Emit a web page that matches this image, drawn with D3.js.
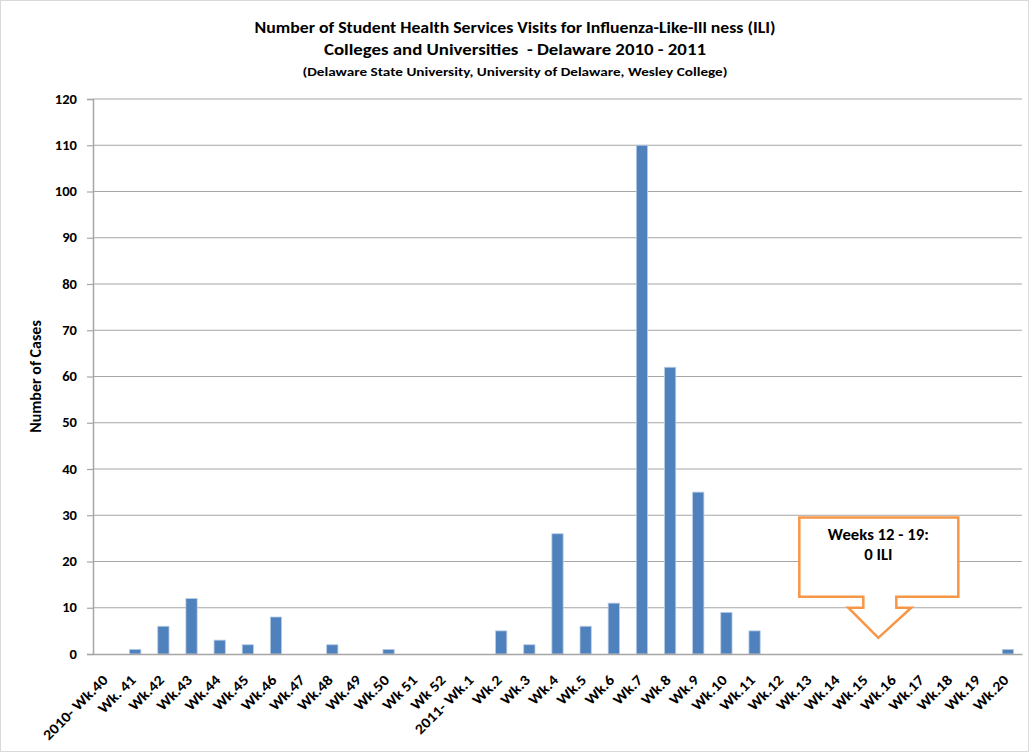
<!DOCTYPE html>
<html><head><meta charset="utf-8">
<script src="https://cdn.jsdelivr.net/npm/d3@7"></script>
<style>
html,body{margin:0;padding:0;background:#fff;}
svg{display:block;font-family:Carlito,Calibri,Lato,"Open Sans",sans-serif;font-weight:bold;}
</style></head>
<body><svg id="c" width="1029" height="752"></svg>
<script>
const categories = ["2010- Wk.40","Wk. 41","Wk.42","Wk.43","Wk.44","Wk.45","Wk.46","Wk.47","Wk.48","Wk.49","Wk.50","Wk 51","Wk 52","2011- Wk.1","Wk.2","Wk.3","Wk.4","Wk.5","Wk.6","Wk.7","Wk.8","Wk.9","Wk.10","Wk.11","Wk.12","Wk.13","Wk.14","Wk.15","Wk.16","Wk.17","Wk.18","Wk.19","Wk.20"];
const visits = [0,1,6,12,3,2,8,0,2,0,1,0,0,0,5,2,26,6,11,110,62,35,9,5,0,0,0,0,0,0,0,0,1];
const yTicks = [0,10,20,30,40,50,60,70,80,90,100,110,120];
const titleLines = ["Number of Student Health Services Visits for Influenza-Like-Ill ness (ILI)","Colleges and Universities  - Delaware 2010 - 2011","(Delaware State University, University of Delaware, Wesley College)"];
const yTitle = "Number of Cases";
const calloutLines = ["Weeks 12 - 19:","0 ILI"];

const svg = d3.select("#c");
const W=1029,H=752;
const m={left:93,right:1022,top:99,bottom:654};
const FF="Carlito,Calibri,Lato,sans-serif";

svg.append("rect").attr("x",0.5).attr("y",0.5).attr("width",W-1).attr("height",H-1)
  .attr("fill","#fff").attr("stroke","#d9d9d9");

const x = d3.scaleBand().domain(categories).range([m.left,m.right]).paddingInner(0.6).paddingOuter(0.3);
const y = d3.scaleLinear().domain([0,120]).range([m.bottom,m.top]);

// gridlines
svg.append("g").selectAll("line").data(yTicks.filter(d=>d>0)).join("line")
  .attr("x1",m.left).attr("x2",m.right).attr("y1",d=>y(d)).attr("y2",d=>y(d))
  .attr("stroke","#a6a6a6").attr("stroke-width",1.2);

// y axis
const ya = svg.append("g").attr("transform",`translate(${m.left},0)`)
  .call(d3.axisLeft(y).tickValues(yTicks).tickSize(6).tickPadding(10));
ya.select(".domain").attr("stroke","#a6a6a6").attr("stroke-width",1.5);
ya.selectAll(".tick line").attr("stroke","#a6a6a6").attr("stroke-width",1.2);
ya.selectAll(".tick text").attr("font-size",13).attr("font-family",FF).attr("font-weight","bold").attr("fill","#000")
  .attr("x",0).attr("transform","translate(-16,0) scale(1.12,1)");

// bars
svg.append("g").selectAll("rect").data(categories).join("rect")
  .attr("x",d=>x(d)).attr("width",x.bandwidth())
  .attr("y",(d,i)=>y(visits[i])).attr("height",(d,i)=>y(0)-y(visits[i]))
  .attr("fill","#4f81bd").attr("stroke","#b9cde5").attr("stroke-width",0.8);

// x axis
const xa = svg.append("g").attr("transform",`translate(0,${m.bottom})`)
  .call(d3.axisBottom(x).tickSize(0).tickPadding(0));
xa.select(".domain").attr("stroke","#a6a6a6").attr("stroke-width",1.5);
xa.selectAll(".tick text")
  .attr("font-size",14.5).attr("font-family",FF).attr("font-weight","bold").attr("fill","#000")
  .attr("text-anchor","end").attr("dy",0).attr("y",0)
  .attr("transform",`translate(${x.bandwidth()/2-4},27) rotate(-45) scale(1.12,1)`);

// titles
const tsz=[16,16,12.5], ty=[33,55,76], tlen=[521,382,425];
svg.append("g").selectAll("text").data(titleLines).join("text")
  .attr("x",515).attr("y",(d,i)=>ty[i]).attr("text-anchor","middle")
  .attr("font-size",(d,i)=>tsz[i]).attr("fill","#000")
  .attr("textLength",(d,i)=>tlen[i]).attr("lengthAdjust","spacingAndGlyphs")
  .attr("xml:space","preserve").text(d=>d);

svg.append("text").attr("transform",`translate(41,${(m.top+m.bottom)/2}) rotate(-90)`)
  .attr("text-anchor","middle").attr("font-size",16).attr("fill","#000").text(yTitle);

// callout
const cx0 = x("Wk.16")+x.bandwidth()/2-17;
const bx0 = cx0-79, bx1 = cx0+80, by0 = y(29.5), by1 = y(12.4), sy = y(10), tip = y(3.5);
const p = `M${bx0},${by0}H${bx1}V${by1}H${cx0+18}V${sy}H${cx0+33}L${cx0},${tip}L${cx0-30},${sy}H${cx0-15}V${by1}H${bx0}Z`;
svg.append("path").attr("d",p).attr("fill","#fff").attr("stroke","#f79646").attr("stroke-width",2.5);
svg.append("g").selectAll("text").data(calloutLines).join("text")
  .attr("x",0).attr("y",0).attr("text-anchor","middle")
  .attr("transform",(d,i)=>`translate(${cx0},${by0+22+i*20}) scale(1.08,1)`)
  .attr("font-size",15.5).attr("fill","#000").text(d=>d);
</script></body></html>
